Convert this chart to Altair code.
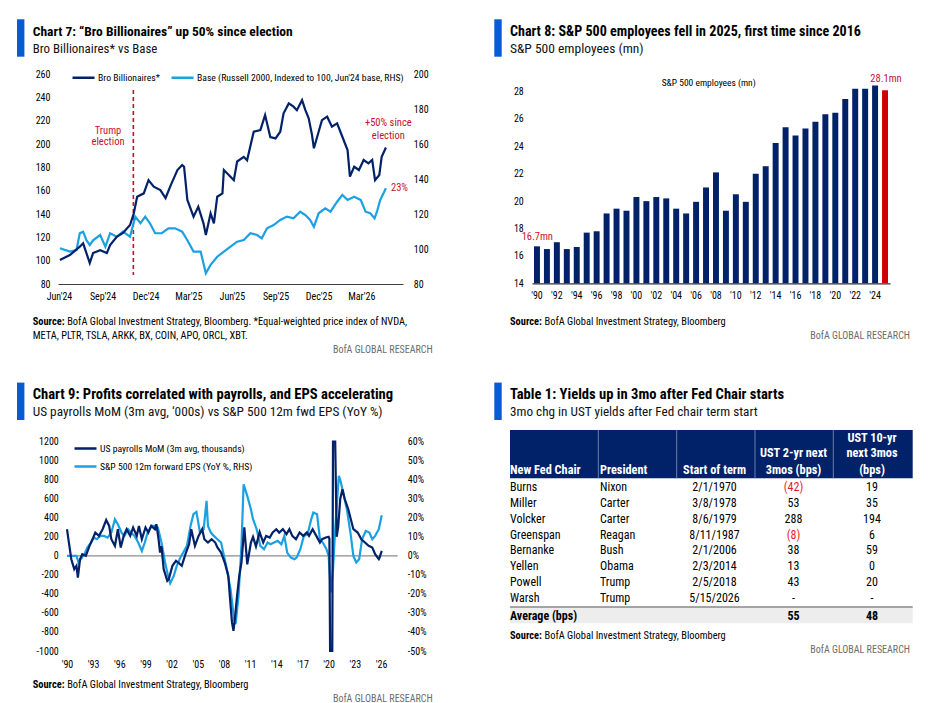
import altair as alt
import pandas as pd

W, H = 917, 695
FONT = "'Liberation Sans Narrow', 'Arial Narrow', 'Roboto Condensed', 'DejaVu Sans Condensed', Roboto, sans-serif"
NAVY = "#012169"
LIGHT = "#1aa0e3"
RED = "#c8102e"
BAR_RED = "#d00000"
TAB = "#0a5ad4"
GRAYTXT = "#6d6d6d"

# ---------------- Chart 7 data ----------------
c7_title = "Chart 7: \u201cBro Billionaires\u201d up 50% since election"
c7_sub = "Bro Billionaires* vs Base"
c7_names = ["Bro Billionaires*", "Base (Russell 2000, Indexed to 100, Jun'24 base, RHS)"]
c7_src = ["BofA Global Investment Strategy, Bloomberg. *Equal-weighted price index of NVDA,",
          "META, PLTR, TSLA, ARKK, BX, COIN, APO, ORCL, XBT."]
c7_ticks = [(2024, 6), (2024, 9), (2024, 12), (2025, 3), (2025, 6), (2025, 9), (2025, 12), (2026, 3)]
election_date = ["2024-11-05"]

bro_dates = ["2024-06-03", "2024-06-24", "2024-07-15", "2024-07-22", "2024-07-29", "2024-08-05", "2024-08-12",
             "2024-08-27", "2024-09-10", "2024-09-17", "2024-10-01", "2024-10-14", "2024-10-29", "2024-11-06",
             "2024-11-13", "2024-11-27", "2024-12-07", "2024-12-18", "2025-01-01", "2025-01-12", "2025-01-23",
             "2025-02-06", "2025-02-16", "2025-02-20", "2025-02-27", "2025-03-12", "2025-03-22", "2025-04-02",
             "2025-04-07", "2025-04-17", "2025-04-24", "2025-05-01", "2025-05-12", "2025-05-15", "2025-05-29",
             "2025-06-05", "2025-06-12", "2025-06-26", "2025-07-03", "2025-07-17", "2025-07-31", "2025-08-10",
             "2025-08-21", "2025-09-01", "2025-09-11", "2025-09-18", "2025-09-29", "2025-10-09", "2025-10-16",
             "2025-10-27", "2025-11-03", "2025-11-10", "2025-11-17", "2025-11-21", "2025-12-01", "2025-12-08",
             "2025-12-19", "2025-12-29", "2026-01-09", "2026-01-20", "2026-01-31", "2026-02-05", "2026-02-14",
             "2026-02-24", "2026-03-06", "2026-03-16", "2026-03-24", "2026-03-30", "2026-04-08", "2026-04-13",
             "2026-04-22"]
bro_values = [100.6, 104.8, 112, 114.9, 106.5, 98, 106.5, 109, 106.5, 113.4, 120.5, 123.7, 130.6, 140.6, 154.8,
              157.7, 169, 163.4, 160.5, 153.7, 164.8, 177.7, 182, 180.5, 152, 137.7, 146.2, 132, 122, 140.6, 132,
              154.8, 157.7, 177.7, 172, 169, 185, 189, 186, 210.5, 212, 224.8, 206, 204.8, 210.5, 226.3, 234.8,
              232, 229, 237.6, 229, 222, 207.7, 196.3, 210.5, 220.5, 223.4, 214.8, 217.7, 206.2, 194.8, 172,
              180.5, 177.7, 186.3, 183.4, 186.3, 169, 173.4, 189, 197]

base_dates = ["2024-06-03", "2024-06-24", "2024-07-08", "2024-07-15", "2024-07-22", "2024-07-29", "2024-08-05",
              "2024-08-12", "2024-08-27", "2024-09-07", "2024-09-17", "2024-10-01", "2024-10-14", "2024-10-29",
              "2024-11-09", "2024-11-20", "2024-11-30", "2024-12-10", "2024-12-21", "2025-01-04", "2025-01-18",
              "2025-02-01", "2025-02-16", "2025-02-27", "2025-03-12", "2025-03-27", "2025-04-07", "2025-04-17",
              "2025-05-01", "2025-05-15", "2025-05-29", "2025-06-12", "2025-06-26", "2025-07-10", "2025-07-24",
              "2025-08-03", "2025-08-14", "2025-08-28", "2025-09-11", "2025-09-25", "2025-10-09", "2025-10-23",
              "2025-11-03", "2025-11-13", "2025-11-21", "2025-12-01", "2025-12-15", "2025-12-26", "2026-01-09",
              "2026-01-20", "2026-01-31", "2026-02-14", "2026-02-28", "2026-03-10", "2026-03-20", "2026-03-29",
              "2026-04-03", "2026-04-10", "2026-04-22"]
base_values = [100.4, 98.5, 99.4, 109, 109.9, 105, 102.3, 105, 108, 101.3, 109, 107, 109.9, 107, 118.5, 114.7,
               118.5, 114.7, 109, 109, 111.8, 111.8, 109.9, 105, 98.5, 98.5, 86.1, 90.9, 95.6, 98.5, 101.3, 104.2,
               105.1, 109, 108, 106.1, 111.8, 113.7, 116.6, 118.5, 117.5, 121.3, 119.4, 116.6, 112.7, 120.4, 123.2,
               121.3, 127, 130.9, 128, 129.9, 128, 121.3, 120.4, 117.5, 121.3, 128, 134.7]

# ---------------- Chart 8 data ----------------
c8_title = "Chart 8: S&P 500 employees fell in 2025, first time since 2016"
c8_sub = "S&P 500 employees (mn)"
c8_src = "BofA Global Investment Strategy, Bloomberg"
years = list(range(1990, 2026))
year_labels = ["'" + str(y)[2:] for y in years]
even_labels = [lab for y, lab in zip(years, year_labels) if y % 2 == 0]
employees = [16.7, 16.5, 17.0, 16.5, 16.65, 17.7, 17.8, 19.1, 19.45, 19.3, 20.3, 20.0, 20.3, 20.2, 19.45, 19.1,
             19.95, 21.0, 22.1, 19.3, 20.5, 19.95, 22.0, 22.55, 24.25, 25.4, 24.8, 25.3, 25.8, 26.35, 26.45,
             27.45, 28.2, 28.2, 28.45, 28.1]

# ---------------- Chart 9 data ----------------
c9_title = "Chart 9: Profits correlated with payrolls, and EPS accelerating"
c9_sub = "US payrolls MoM (3m avg, \u2018000s) vs S&P 500 12m fwd EPS (YoY %)"
c9_names = ["US payrolls MoM (3m avg, thousands)", "S&P 500 12m forward EPS (YoY %, RHS)"]
c9_src = "BofA Global Investment Strategy, Bloomberg"
c9_tick_years = list(range(1990, 2027, 3))

pay_dates = ["1990-01", "1990-03", "1990-07", "1990-11", "1991-02", "1991-04", "1991-07", "1991-10", "1992-03",
             "1992-08", "1993-01", "1993-04", "1993-09", "1994-02", "1994-07", "1994-11", "1995-02", "1995-07",
             "1995-11", "1996-03", "1996-07", "1996-11", "1997-04", "1997-08", "1998-01", "1998-04", "1998-08",
             "1999-01", "1999-05", "1999-09", "2000-02", "2000-04", "2000-07", "2000-09", "2000-11", "2001-02",
             "2001-07", "2001-09", "2002-02", "2002-07", "2002-10", "2003-03", "2003-08", "2004-01", "2004-04",
             "2004-09", "2005-02", "2005-07", "2005-10", "2006-03", "2006-08", "2007-01", "2007-04", "2007-09",
             "2008-02", "2008-07", "2008-09", "2008-12", "2009-02", "2009-04", "2009-07", "2009-10", "2010-01",
             "2010-05", "2010-09", "2011-02", "2011-05", "2011-09", "2012-02", "2012-07", "2012-11", "2013-04",
             "2013-08", "2014-01", "2014-05", "2014-10", "2015-03", "2015-07", "2015-11", "2016-04", "2016-09",
             "2017-02", "2017-07", "2017-10", "2018-03", "2018-08", "2019-01", "2019-04", "2019-09", "2020-01",
             "2020-02", "2020-03", "2020-06", "2020-07", "2020-10", "2020-12", "2021-02", "2021-05", "2021-08",
             "2021-11", "2022-04", "2022-11", "2023-05", "2023-10", "2024-03", "2024-08", "2025-01", "2025-05",
             "2025-10", "2025-11", "2026-02"]
pay_values = [280, 175, -35, -140, -105, -228, -35, 18, 0, 105, 190, 245, 210, 280, 378, 315, 175, 105, 280, 88,
              210, 280, 210, 298, 210, 315, 175, 298, 245, 315, 280, 333, 175, 35, 100, -140, -263, -245, -105,
              -53, -70, -105, 18, 123, 280, 105, 210, 280, 175, 140, 175, 140, 88, 35, -70, -210, -420, -700, -788,
              -665, -420, -210, -70, 300, -90, 140, 200, 100, 250, 140, 210, 193, 245, 280, 245, 280, 228, 280, 210,
              175, 245, 210, 245, 210, 280, 210, 140, 175, 193, 200, 180, -1000, -1000, 1200, 1200, 200, 300, 600,
              700, 600, 490, 280, 245, 175, 140, 105, 88, 18, -35, -18, 52]

eps_dates = ["1990-01", "1991-02", "1991-05", "1991-08", "1992-01", "1992-05", "1992-10", "1993-02", "1993-06",
             "1993-11", "1994-04", "1994-09", "1995-02", "1995-07", "1995-11", "1996-04", "1996-08", "1997-01",
             "1997-05", "1997-10", "1998-03", "1998-08", "1998-12", "1999-04", "1999-09", "2000-02", "2000-06",
             "2000-11", "2001-04", "2001-08", "2001-11", "2002-04", "2002-08", "2003-01", "2003-05", "2003-10",
             "2004-03", "2004-07", "2004-11", "2005-04", "2005-09", "2006-01", "2006-03", "2006-07", "2006-11",
             "2007-04", "2007-09", "2008-01", "2008-05", "2008-10", "2009-03", "2009-05", "2009-09", "2010-01",
             "2010-04", "2010-09", "2011-02", "2011-05", "2011-10", "2012-03", "2012-08", "2013-01", "2013-05",
             "2013-10", "2014-03", "2014-08", "2014-12", "2015-04", "2015-09", "2016-02", "2016-05", "2016-10",
             "2017-03", "2017-08", "2018-01", "2018-04", "2018-09", "2019-01", "2019-05", "2019-10", "2020-01",
             "2020-04", "2020-07", "2020-10", "2021-03", "2021-05", "2021-10", "2022-02", "2022-07", "2022-11",
             "2023-03", "2023-07", "2023-11", "2024-04", "2024-09", "2025-01", "2025-05", "2025-10", "2026-02"]
eps_values = [0, 0, -3.5, -1.75, 0.9, 4.4, 7, 9.6, 8.75, 10.5, 10.5, 9.6, 12.25, 19.25, 16.6, 12.25, 10.5, 14,
              12.25, 10.5, 7, 2.6, 7, 12.25, 15.75, 15.75, 14.9, 7, -3.5, -10.5, -14.35, -10.5, -5.25, -0.9, 1.75,
              5.25, 15.75, 21.9, 23.1, 12.25, 14, 28.9, 15.75, 12.25, 10.5, 8.75, 7, 0, -7, -17.5, -33.25, -35.9,
              -21, 5.25, 37.6, 31.5, 24.5, 19.25, 14, 5.25, 3.5, 7, 6.1, 7, 7.9, 6.1, 10.5, 1.75, -0.9, -1.75,
              -0.9, 3.5, 10.5, 11.4, 19.25, 22.75, 21.9, 8.75, 7, 3.5, 0, -19.25, -7, 14, 42, 40, 31.5, 24.5,
              12.25, 0, -3.5, -1.75, 8.75, 13.1, 12.25, 8.75, 10.5, 14, 21.35]

# ---------------- Table data ----------------
t_title = "Table 1: Yields up in 3mo after Fed Chair starts"
t_sub = "3mo chg in UST yields after Fed chair term start"
t_src = "BofA Global Investment Strategy, Bloomberg"
chairs = ["Burns", "Miller", "Volcker", "Greenspan", "Bernanke", "Yellen", "Powell", "Warsh"]
presidents = ["Nixon", "Carter", "Carter", "Reagan", "Bush", "Obama", "Trump", "Trump"]
starts = ["2/1/1970", "3/8/1978", "8/6/1979", "8/11/1987", "2/1/2006", "2/3/2014", "2/5/2018", "5/15/2026"]
ust2 = ["(42)", "53", "288", "(8)", "38", "13", "43", "-"]
ust10 = ["19", "35", "194", "6", "59", "0", "20", "-"]
avg_label = "Average (bps)"
avg_values = ["55", "48"]
BRAND = "BofA GLOBAL RESEARCH"


# ---------------- helpers (decorations) ----------------
def txt(s, x, y, size=10.0, weight="normal", color="#000", align="left", baseline="middle"):
    return alt.Chart().mark_text(fontSize=size, fontWeight=weight, color=color, align=align,
                                 baseline=baseline, font=FONT).encode(
        x=alt.value(x), y=alt.value(y), text=alt.value(s))


def box(x, x2, y, y2, color):
    return alt.Chart().mark_rect(color=color).encode(
        x=alt.value(x), x2=alt.value(x2), y=alt.value(y), y2=alt.value(y2))


def hrule(x, x2, y, color, width):
    return alt.Chart().mark_rule(color=color, strokeWidth=width).encode(
        x=alt.value(x), x2=alt.value(x2), y=alt.value(y))


def vrule(x, y, y2, color, width):
    return alt.Chart().mark_rule(color=color, strokeWidth=width).encode(
        x=alt.value(x), y=alt.value(y), y2=alt.value(y2))


def header(title, sub, x, ytop, tsize=13.5, ssize=13.5):
    return [box(x - 15.7, x - 8.3, ytop - 12.4, ytop + 25, TAB),
            txt(title, x, ytop, tsize, "bold"),
            txt(sub, x, ytop + 16.8, ssize, "normal", "#111")]


def source(s, x, y):
    return [txt("Source:", x, y, 10.4, "bold"), txt(s, x + 34.5, y, 10.4)]


LAB_INT = "toString(datum.value)"

# ---------------- Chart 7 ----------------
x7 = alt.X("date:T",
           scale=alt.Scale(domain=[alt.DateTime(year=2024, month=5, date=30),
                                   alt.DateTime(year=2026, month=5, date=28)],
                           range=[50, 395], nice=False),
           axis=alt.Axis(orient="bottom", offset=276 - H,
                         values=[alt.DateTime(year=y, month=m, date=1) for y, m in c7_ticks],
                         format="%b'%y", domain=True, domainColor="#404040", domainWidth=1,
                         labelPadding=7, labelFlush=False, labelOverlap=False, title=None))
col7 = alt.Color("s:N", scale=alt.Scale(domain=c7_names, range=[NAVY, LIGHT]),
                 legend=alt.Legend(orient="none", legendX=63, legendY=57, direction="horizontal", title=None,
                                   symbolType="stroke", symbolSize=484, symbolStrokeWidth=2.5,
                                   labelFont=FONT, labelFontSize=9.7, labelColor="#000", labelOffset=2,
                                   columnPadding=6, labelLimit=400))

df_bro = pd.DataFrame({"date": bro_dates, "v": bro_values, "s": c7_names[0]})
df_base = pd.DataFrame({"date": base_dates, "v": base_values, "s": c7_names[1]})

bro = alt.Chart(df_bro).mark_line(strokeWidth=2.2).encode(
    x=x7,
    y=alt.Y("v:Q", scale=alt.Scale(domain=[80, 260], range=[276, 66], nice=False, zero=False),
            axis=alt.Axis(orient="left", offset=-50, values=list(range(80, 261, 20)), labelPadding=8,
                          labelExpr=LAB_INT, title=None)),
    color=col7)
base = alt.Chart(df_base).mark_line(strokeWidth=2.2).encode(
    x=x7,
    y=alt.Y("v:Q", scale=alt.Scale(domain=[80, 200], range=[276, 66], nice=False, zero=False),
            axis=alt.Axis(orient="right", offset=395 - W, values=list(range(80, 201, 20)), labelPadding=10.3,
                          labelExpr=LAB_INT, title=None)),
    color=col7)
elect = alt.Chart(pd.DataFrame({"date": election_date})).mark_rule(
    color=RED, strokeDash=[4, 3], strokeWidth=1.6).encode(x=x7, y=alt.value(82), y2=alt.value(267))

c7 = alt.layer(elect, base, bro).resolve_scale(y="independent")
c7_deco = header(c7_title, c7_sub, 24.7, 23.7, 13.5, 12.9) + source(c7_src[0], 24.7, 313.7) + [
    txt(c7_src[1], 24.7, 327.7, 10.4),
    txt(BRAND, 424.7, 342, 10, "normal", GRAYTXT, "right"),
    txt("Trump", 100, 122.7, 10.5, "normal", RED, "center"),
    txt("election", 100, 134.3, 10.5, "normal", RED, "center"),
    txt("+50% since", 380.3, 115.3, 10.5, "normal", RED, "center"),
    txt("election", 380.3, 128, 10.5, "normal", RED, "center"),
    txt("23%", 383, 179.7, 10.5, "normal", RED, "left"),
]

# ---------------- Chart 8 ----------------
df8 = pd.DataFrame({"yl": year_labels, "emp": employees})
bars = alt.Chart(df8).mark_bar().encode(
    x=alt.X("yl:O", sort=None,
            scale=alt.Scale(domain=year_labels, range=[524, 882], paddingInner=0.4, paddingOuter=0.2),
            axis=alt.Axis(orient="bottom", offset=275.3 - H, values=even_labels, labelAngle=0, domain=True,
                          domainColor="#333333", domainWidth=1.3, labelPadding=7, labelOverlap=False,
                          title=None)),
    y=alt.Y("emp:Q", scale=alt.Scale(domain=[14, 29], range=[275.3, 69.9], nice=False, zero=False),
            axis=alt.Axis(orient="left", offset=-524, values=list(range(14, 29, 2)), labelPadding=8.7,
                          labelExpr=LAB_INT, title=None)),
    y2=alt.datum(14),
    color=alt.condition(alt.datum.yl == year_labels[-1], alt.value(BAR_RED), alt.value(NAVY)))
c8_deco = header(c8_title, c8_sub, 502, 23.7, 14.1, 13.5) + source(c8_src, 502, 313.7) + [
    txt(BRAND, 902, 327.7, 10, "normal", GRAYTXT, "right"),
    txt("S&P 500 employees (mn)", 700.7, 75.3, 9.5, "normal", "#000", "center"),
    txt("28.1mn", 878, 71.3, 10.5, "normal", RED, "center"),
    txt("16.7mn", 529.3, 228.7, 10.5, "normal", RED, "center"),
]

# ---------------- Chart 9 ----------------
x9 = alt.X("date:T",
           scale=alt.Scale(domain=[alt.DateTime(year=1990, month=1, date=1),
                                   alt.DateTime(year=2027, month=12, date=1)],
                           range=[59, 389.7], nice=False),
           axis=alt.Axis(orient="bottom", offset=643 - H,
                         values=[alt.DateTime(year=y, month=1, date=1) for y in c9_tick_years],
                         format="'%y", labelPadding=8, labelFlush=False, labelOverlap=False, title=None))
col9 = alt.Color("s:N", scale=alt.Scale(domain=c9_names, range=[NAVY, LIGHT]),
                 legend=alt.Legend(orient="none", legendX=65, legendY=428, direction="vertical", title=None,
                                   symbolType="stroke", symbolSize=484, symbolStrokeWidth=2.5,
                                   labelFont=FONT, labelFontSize=9.7, labelColor="#000", labelOffset=2,
                                   rowPadding=0, labelLimit=400))
df_pay = pd.DataFrame({"date": pay_dates, "v": pay_values, "s": c9_names[0]})
df_eps = pd.DataFrame({"date": eps_dates, "v": eps_values, "s": c9_names[1]})
pay = alt.Chart(df_pay).mark_line(strokeWidth=2.2).encode(
    x=x9,
    y=alt.Y("v:Q", scale=alt.Scale(domain=[-1000, 1200], range=[643, 433.7], nice=False, zero=False),
            axis=alt.Axis(orient="left", offset=-59, values=list(range(-1000, 1201, 200)), labelPadding=8.7,
                          labelExpr=LAB_INT, title=None)),
    color=col9)
eps = alt.Chart(df_eps).mark_line(strokeWidth=2.2).encode(
    x=x9,
    y=alt.Y("v:Q", scale=alt.Scale(domain=[-50, 60], range=[643, 433.7], nice=False, zero=False),
            axis=alt.Axis(orient="right", offset=389.7 - W, values=list(range(-50, 61, 10)), labelPadding=9.6,
                          labelExpr="toString(datum.value) + '%'", title=None)),
    color=col9)
zero9 = hrule(59, 389.7, 547.9, "#8c8c8c", 1.3)
c9 = alt.layer(eps, pay).resolve_scale(y="independent")
c9_deco = header(c9_title, c9_sub, 24.7, 387, 14.6, 13.3) + source(c9_src, 24.7, 677) + [
    txt(BRAND, 424.7, 691, 10, "normal", GRAYTXT, "right"),
]

# ---------------- Table ----------------
df_t = pd.DataFrame({"chair": chairs, "pres": presidents, "start": starts, "u2": ust2, "u10": ust10})
yT = alt.Y("chair:N", sort=None, scale=alt.Scale(type="point", domain=chairs, range=[478.7, 590.3], padding=0),
           axis=None)


def tcol(field, x, align, color=None):
    enc = dict(x=alt.value(x), y=yT, text=alt.Text(field + ":N"))
    enc["color"] = color if color is not None else alt.value("#000")
    return alt.Chart(df_t).mark_text(font=FONT, fontSize=12, align=align, baseline="middle").encode(**enc)


neg_color = alt.condition(alt.expr.indexof(alt.datum.u2, "(") == 0, alt.value("#e8192c"), alt.value("#000"))
table = alt.layer(
    tcol("chair", 502, "left"),
    tcol("pres", 592, "left"),
    tcol("start", 706.5, "center"),
    tcol("u2", 785.5, "center", neg_color),
    tcol("u10", 864, "center"),
)
WH = "#ffffff"
HS = 12.3
t_deco_back = [
    box(502, 904.7, 422, 470.3, NAVY),
    vrule(590.3, 422, 470.3, "#6f7fa8", 1),
    vrule(668.7, 422, 470.3, "#6f7fa8", 1),
    vrule(747, 422, 470.3, "#6f7fa8", 1),
    vrule(825.3, 422, 470.3, "#6f7fa8", 1),
    box(502, 904.7, 598.7, 615.3, "#ededed"),
    hrule(502, 904.7, 598.9, "#8a8a8a", 1.5),
]
t_deco = header(t_title, t_sub, 502, 387, 14.6, 13.2) + source(t_src, 502, 628) + [
    txt(BRAND, 902, 642, 10, "normal", GRAYTXT, "right"),
    txt("New Fed Chair", 502, 462, HS, "bold", WH, "left"),
    txt("President", 592, 462, HS, "bold", WH, "left"),
    txt("Start of term", 706.5, 462, HS, "bold", WH, "center"),
    txt("UST 2-yr next", 785.5, 445.3, HS, "bold", WH, "center"),
    txt("3mos (bps)", 785.5, 462, HS, "bold", WH, "center"),
    txt("UST 10-yr", 864, 429.5, HS, "bold", WH, "center"),
    txt("next 3mos", 864, 445.3, HS, "bold", WH, "center"),
    txt("(bps)", 864, 462, HS, "bold", WH, "center"),
    txt(avg_label, 502, 608, 12, "bold", "#000", "left"),
    txt(avg_values[0], 785.5, 608, 12, "bold", "#000", "center"),
    txt(avg_values[1], 864, 608, 12, "bold", "#000", "center"),
]

chart = alt.layer(
    zero9, *t_deco_back, c7, bars, c9, table, *c7_deco, *c8_deco, *c9_deco, *t_deco
).resolve_scale(
    x="independent", y="independent", color="independent"
).properties(
    width=W, height=H, padding=0, autosize=alt.AutoSizeParams(type="none"), background="white"
).configure_view(
    stroke=None
).configure_axis(
    grid=False, ticks=False, domain=False, labelFont=FONT, labelFontSize=10, labelColor="#000"
)

chart.save("out.html", embed_options={"renderer": "svg", "actions": False})
